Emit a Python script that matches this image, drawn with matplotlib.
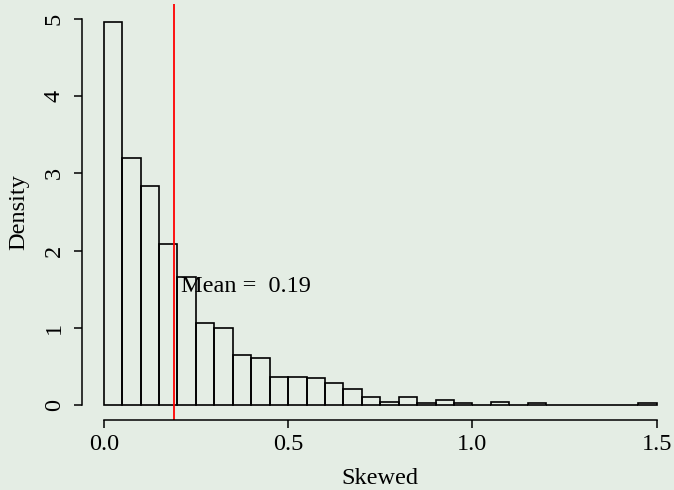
import numpy as np
import matplotlib.pyplot as plt

# histogram of a skewed sample, density scale, bin width 0.05
bin_edges = np.round(np.arange(0, 1.5001, 0.05), 2)
density = [4.96, 3.20, 2.84, 2.08, 1.66, 1.06, 1.00, 0.64, 0.60, 0.36,
           0.36, 0.34, 0.28, 0.20, 0.10, 0.04, 0.10, 0.02, 0.06, 0.02,
           0.00, 0.04, 0.00, 0.02, 0.00, 0.00, 0.00, 0.00, 0.00, 0.02]
mean_value = 0.19
x_ticks = [0.0, 0.5, 1.0, 1.5]
x_tick_labels = ["0.0", "0.5", "1.0", "1.5"]
y_ticks = [0, 1, 2, 3, 4, 5]

bg = "#e4ede4"
plt.rcParams['font.family'] = ['Liberation Serif', 'DejaVu Serif']
fs = 17.5

fig = plt.figure(figsize=(6.74, 4.9), dpi=100, facecolor=bg)
ax = fig.add_axes([0.1211, 0.1427, 0.8862, 0.8494])
ax.set_facecolor(bg)

ax.bar(bin_edges[:-1], density, width=np.diff(bin_edges), align='edge',
       facecolor='none', edgecolor='black', linewidth=1.2)
ax.axvline(mean_value, color='red', linewidth=1.3)
ax.annotate("Mean =  %.2f" % mean_value, xy=(mean_value, 1.53),
            xytext=(5, 0), textcoords='offset points',
            va='center', ha='left', fontsize=fs)

ax.set_xlim(-0.06, 1.56)
ax.set_ylim(-0.2, 5.2)

for s in ['top', 'right']:
    ax.spines[s].set_visible(False)
ax.spines['left'].set_bounds(0, 5)
ax.spines['bottom'].set_bounds(0, 1.5)
ax.spines['left'].set_linewidth(1.1)
ax.spines['bottom'].set_linewidth(1.1)

ax.set_xticks(x_ticks)
ax.set_xticklabels(x_tick_labels)
ax.set_yticks(y_ticks)
ax.set_yticklabels([str(v) for v in y_ticks], rotation=90, va='center')
ax.tick_params(axis='both', length=6, width=1.1, labelsize=fs)
ax.tick_params(axis='x', pad=4)
ax.tick_params(axis='y', pad=6)

ax.set_xlabel("Skewed", fontsize=fs, va='baseline')
ax.set_ylabel("Density", fontsize=fs)
ax.xaxis.set_label_coords(0.5, -0.153)
ax.yaxis.set_label_coords(-0.088, 0.5)

fig.savefig("out.png", dpi=100, facecolor=bg)
